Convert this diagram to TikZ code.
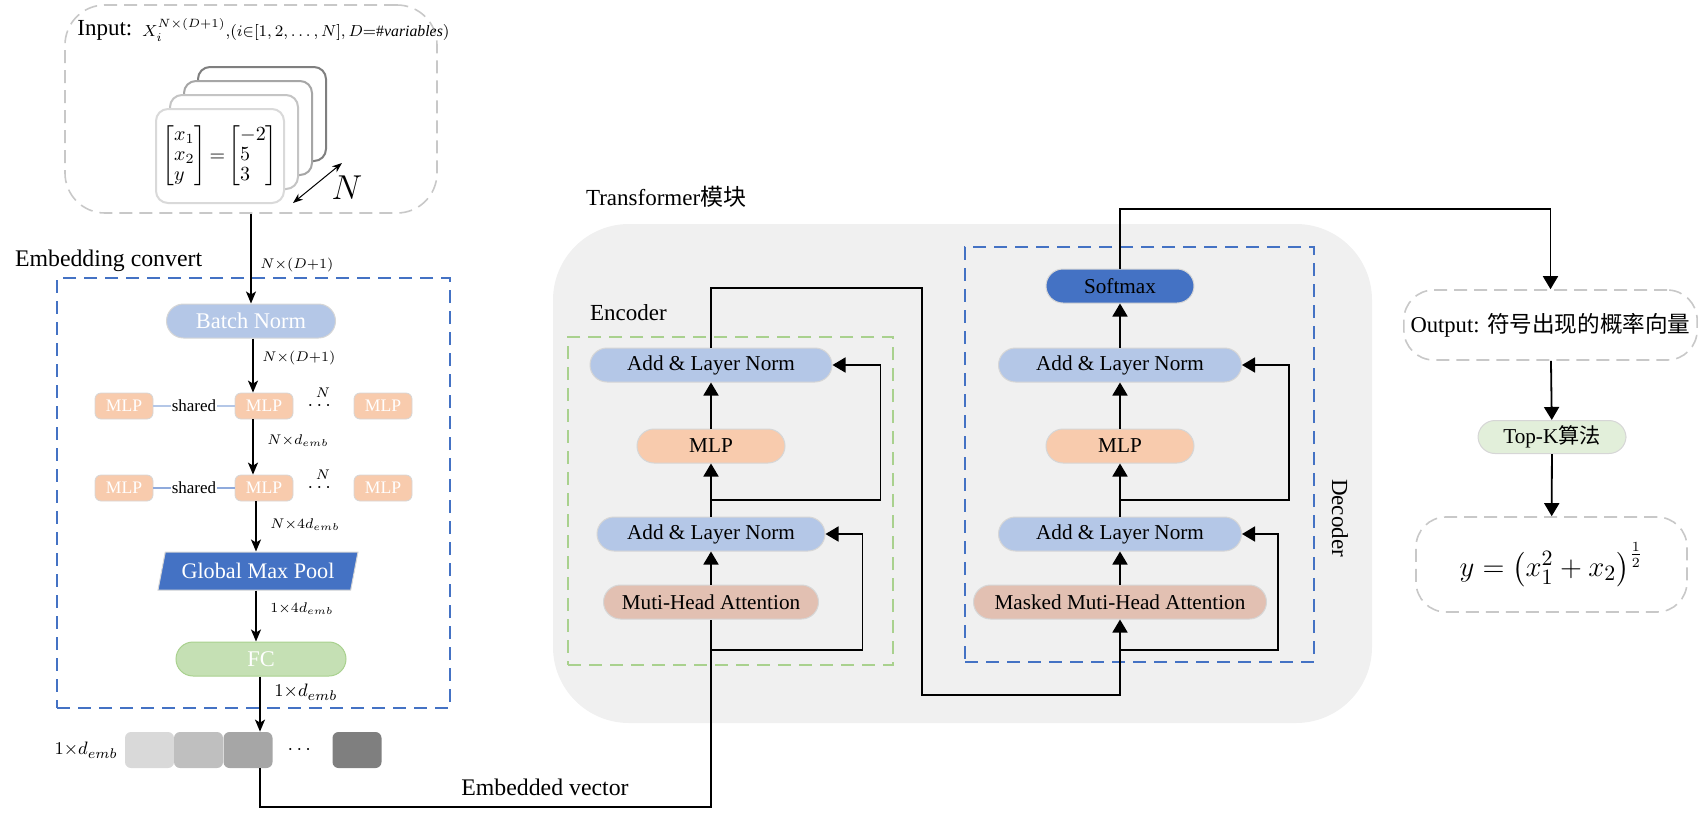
\documentclass[tikz,border=0pt]{standalone}
\usepackage{amsmath}
\usepackage{fontspec}
\setmainfont{Liberation Serif}
\newfontfamily\cjk{Noto Sans CJK SC}
\usepackage{tikz}
\usetikzlibrary{arrows.meta,positioning,shapes.geometric}
\definecolor{normblue}{HTML}{B4C7E7}
\definecolor{deepblue}{HTML}{4472C4}
\definecolor{mlppeach}{HTML}{F8CBAD}
\definecolor{attnrose}{HTML}{E2C0B2}
\definecolor{fcgreen}{HTML}{C5E0B4}
\definecolor{topkgreen}{HTML}{E2EFDA}
\definecolor{dashgreen}{HTML}{A9D18E}
\definecolor{dashgray}{HTML}{C8C8C8}
\definecolor{panelgray}{HTML}{F0F0F0}
\definecolor{edgegray}{HTML}{D6D6D6}
\definecolor{sharedblue}{HTML}{8FAADC}
\definecolor{cardedge0}{HTML}{D9D9D9}
\definecolor{cardedge1}{HTML}{C4C4C4}
\definecolor{cardedge2}{HTML}{A6A6A6}
\definecolor{cardedge3}{HTML}{7F7F7F}
\definecolor{vecshade1}{HTML}{D9D9D9}
\definecolor{vecshade2}{HTML}{BFBFBF}
\definecolor{vecshade3}{HTML}{A6A6A6}
\definecolor{vecshade4}{HTML}{7F7F7F}
\newcommand{\sizeto}[1]{\fontsize{#1}{#1}\selectfont}
\tikzset{
  block/.style={draw=edgegray, line width=0.5pt, rounded corners=8.5pt,
    minimum height=17pt, inner sep=0pt, font=\sizeto{10.6}},
  normblock/.style={block, fill=normblue},
  mlpblock/.style={block, fill=mlppeach},
  attnblock/.style={block, fill=attnrose},
  smallmlp/.style={draw=edgegray, fill=mlppeach, rounded corners=3pt,
    minimum width=29pt, minimum height=13pt, inner sep=0pt, text=white,
    font=\sizeto{8.8}},
  graydash/.style={draw=dashgray, dash pattern=on 6.5pt off 3.5pt, line width=0.8pt},
  bluedash/.style={draw=deepblue, dash pattern=on 6.5pt off 4pt, line width=0.8pt},
  greendash/.style={draw=dashgreen, dash pattern=on 6.5pt off 4pt, line width=0.8pt},
  flow/.style={-{Triangle[length=6.5pt,width=7.5pt]}, line width=0.9pt},
  embflow/.style={-{Stealth[length=6pt,width=5pt,inset=1.5pt]}, line width=0.8pt},
  plain/.style={line width=0.9pt},
  dimlabel/.style={anchor=west, inner sep=0pt, font=\sizeto{7.5}},
  vecbox/.style={rounded corners=3pt, minimum width=24.5pt, minimum height=18pt, inner sep=0pt},
  card/.style={fill=white, line width=1pt, rounded corners=6pt,
    minimum width=64pt, minimum height=47pt},
}

\begin{document}
\begin{tikzpicture}[x=0.5pt, y=-0.5pt]
\useasboundingbox (0,0) rectangle (1699,815);

% input
\node[graydash, rounded corners=20pt, minimum width=186pt, minimum height=104pt] (inbox) at (251,109) {};
\node[anchor=west, inner sep=0pt, font=\sizeto{11.5}] (inlabel) at (77,30) {Input:};
\node[anchor=west, inner sep=0pt, font=\sizeto{7.9}] (informula) at (142,30)
  {$X_i^{N{\times}(D{+}1)},\!\left(i{\in}[1,2,\ldots,N],D{=}\#\mathit{variables}\right)$};
\foreach \i in {3,2,1,0}
  \node[card, draw=cardedge\i] (card\i) at ({220+14*\i},{156-14*\i}) {};
\node[font=\sizeto{10}] (sample) at (card0)
  {$\left[\begin{array}{@{}l@{}}x_1\\x_2\\y\end{array}\right]{=}
    \left[\begin{array}{@{}l@{}}-2\\5\\3\end{array}\right]$};
\coordinate (nstart) at (293,203);
\coordinate (nend) at (342,163);
\draw[{Stealth[length=5pt]}-{Stealth[length=5pt]}, line width=0.5pt] (nstart) -- (nend);
\node[font=\sizeto{16}] (nlabel) at (347,188) {$N$};

% embedding convert
\node[anchor=west, font=\sizeto{11.9}] (embtitle) at (8,261) {Embedding convert};
\node[bluedash, minimum width=196.5pt, minimum height=215pt] (embframe) at (253.5,493) {};
\node[dimlabel] (dim0) at (260,265) {$N{\times}(D{+}1)$};

\node[normblock, minimum width=84.5pt, text=white, font=\sizeto{11.2}] (bnorm) at (251,321) {Batch Norm};
\draw[embflow] (inbox.south) -- (bnorm.north);
\node[dimlabel] (dim1) at (262,358) {$N{\times}(D{+}1)$};

\foreach \r/\y in {a/406,b/488}{
  \node[smallmlp] (mlp\r1) at (124,\y) {MLP};
  \node[smallmlp] (mlp\r2) at (264,\y) {MLP};
  \node[smallmlp] (mlp\r3) at (383,\y) {MLP};
  \node[inner sep=0pt] (dots\r) at (321,\y) {$\cdots$};
  \node[font=\sizeto{7.5}, inner sep=0pt] (ncount\r) at (323,\y-13) {$N$};
}
\draw[normblue, line width=0.8pt] (mlpa1) -- node[fill=white, text=black, inner sep=0.5pt, font=\sizeto{8.5}] (shareda) {shared} (mlpa2);
\draw[sharedblue, line width=0.6pt] (mlpb1) -- node[fill=white, text=black, inner sep=0.5pt, font=\sizeto{8.5}] (sharedb) {shared} (mlpb2);

\coordinate (colA) at (253,0);
\coordinate (colB) at (256,0);
\coordinate (colC) at (260,0);
\draw[embflow] (colA |- bnorm.south) -- (colA |- mlpa2.north);
\draw[embflow] (colA |- mlpa2.south) -- (colA |- mlpb2.north);
\node[dimlabel] (dim2) at (267,441) {$N{\times}d_{emb}$};
\node[dimlabel] (dim3) at (270,525) {$N{\times}4d_{emb}$};

\node[trapezium, trapezium left angle=65, trapezium right angle=115, trapezium stretches body,
  fill=deepblue, draw=edgegray, line width=0.5pt, minimum width=100pt, minimum height=19pt,
  inner sep=0pt, text=white, font=\sizeto{11.1}] (gmpool) at (258,571) {Global Max Pool};
\draw[embflow] (colB |- mlpb2.south) -- (colB |- gmpool.north);
\node[dimlabel] (dim4) at (270,609) {$1{\times}4d_{emb}$};

\node[block, fill=fcgreen, draw=dashgreen, minimum width=85pt, text=white, font=\sizeto{11.2}] (fc) at (261,659) {FC};
\draw[embflow] (colB |- gmpool.south) -- (colB |- fc.north);
\node[dimlabel, font=\sizeto{9.5}] (dim5) at (274,692) {$1{\times}d_{emb}$};

% embedded vector
\node[vecbox, fill=vecshade1] (vec1) at (149.5,750) {};
\node[vecbox, fill=vecshade2] (vec2) at (198.5,750) {};
\node[vecbox, fill=vecshade3] (vec3) at (248,750) {};
\node (vecdots) at (301,750) {$\cdots$};
\node[vecbox, fill=vecshade4] (vec4) at (357,750) {};
\node[anchor=east, inner sep=0pt, font=\sizeto{9.5}] (veclabel) at (118,750) {$1{\times}d_{emb}$};
\draw[embflow] (colC |- fc.south) -- (colC |- vec3.north);

% transformer
\node[anchor=west, font=\sizeto{11.5}] (trtitle) at (579,197) {Transformer{\cjk 模块}};
\node[fill=panelgray, rounded corners=38pt, minimum width=409.5pt, minimum height=249.5pt] (panel) at (962.5,473.5) {};

% encoder
\node[anchor=west, font=\sizeto{11.5}] (enctitle) at (583,313) {Encoder};
\node[greendash, minimum width=162.5pt, minimum height=164pt] (encframe) at (730.5,501) {};
\node[normblock, minimum width=121pt] (ealn2) at (711,365) {Add \& Layer Norm};
\node[mlpblock, minimum width=74pt] (emlp) at (711,446) {MLP};
\node[normblock, minimum width=114pt] (ealn1) at (711,534) {Add \& Layer Norm};
\node[attnblock, minimum width=107.5pt] (emha) at (711,602) {Muti-Head Attention};
\draw[flow] (emha) -- (ealn1);
\draw[flow] (ealn1) -- (emlp);
\draw[flow] (emlp) -- (ealn2);
\coordinate (eres1) at (711,650);
\coordinate (eres2) at (711,500);
\draw[flow] (eres1) -| ([xshift=18.5pt]ealn1.east) -- (ealn1.east);
\draw[flow] (eres2) -| ([xshift=24pt]ealn2.east) -- (ealn2.east);

% embedded vector into encoder
\coordinate (embturn) at (260,807);
\draw[plain] (colC |- vec3.south) -- (embturn) -| (emha.south);
\node[font=\sizeto{11.9}] (embvec) at (545,787) {Embedded vector};

% decoder
\node[bluedash, minimum width=174.5pt, minimum height=207.5pt] (decframe) at (1139.5,454.5) {};
\node[block, fill=deepblue, minimum width=74pt] (softmax) at (1120,286) {Softmax};
\node[normblock, minimum width=121.5pt] (daln2) at (1120,365) {Add \& Layer Norm};
\node[mlpblock, minimum width=74pt] (dmlp) at (1120,446) {MLP};
\node[normblock, minimum width=121.5pt] (daln1) at (1120,534) {Add \& Layer Norm};
\node[attnblock, minimum width=146.5pt] (dmha) at (1120,602) {Masked Muti-Head Attention};
\draw[flow] (dmha) -- (daln1);
\draw[flow] (daln1) -- (dmlp);
\draw[flow] (dmlp) -- (daln2);
\draw[flow] (daln2) -- (softmax);
\coordinate (dres1) at (1120,650);
\coordinate (dres2) at (1120,500);
\draw[flow] (dres1) -| ([xshift=18pt]daln1.east) -- (daln1.east);
\draw[flow] (dres2) -| ([xshift=23.5pt]daln2.east) -- (daln2.east);
\node[rotate=-90, font=\sizeto{11.5}] (dectitle) at (1340,518) {Decoder};

% encoder to decoder
\coordinate (crossa) at (922,288);
\coordinate (crossb) at (922,695);
\draw[flow] (ealn2.north) |- (crossa) -- (crossb) -| (dmha.south);

% output
\node[graydash, rounded corners=15pt, minimum width=145.5pt, minimum height=35pt,
  font=\sizeto{11.3}] (outbox) at (1550.5,325) {Output: {\cjk 符号出现的概率向量}};
\coordinate (outturn) at (1550.5,209);
\draw[flow] (softmax.north) |- (outturn) -- (outbox.north);
\node[block, fill=topkgreen, minimum width=74pt, minimum height=16.5pt] (topk) at (1552,437) {Top-K{\cjk 算法}};
\node[graydash, rounded corners=15pt, minimum width=135.5pt, minimum height=47.5pt,
  font=\sizeto{15}] (result) at (1551.5,564.5) {$y=\left(x_1^2+x_2\right)^{\frac{1}{2}}$};
\draw[flow] (outbox) -- (topk);
\draw[flow] (topk) -- (result);
\end{tikzpicture}
\end{document}
